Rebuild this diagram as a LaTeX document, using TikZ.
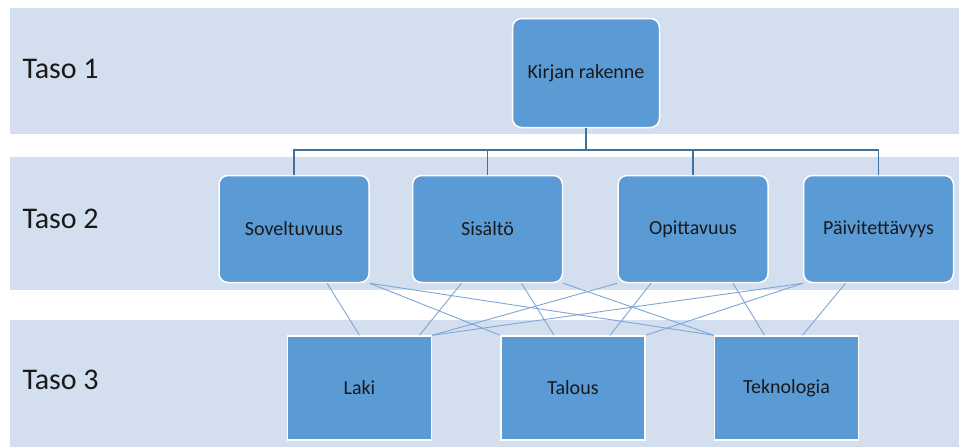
\documentclass[tikz,border=0pt]{standalone}
\usepackage{fontspec}
\setmainfont{Carlito}
\usetikzlibrary{positioning}
\definecolor{bandfill}{RGB}{211,222,239}
\definecolor{boxfill}{RGB}{91,155,213}
\definecolor{treeline}{RGB}{65,113,156}
\definecolor{crossline}{RGB}{126,166,214}
\tikzset{
  band/.style={fill=bandfill,draw=none},
  tasolabel/.style={font=\fontsize{30}{36}\selectfont,anchor=west,text=black!90},
  rbox/.style={draw=white,line width=1.5pt,fill=boxfill,rounded corners=9pt,
    minimum width=150pt,minimum height=107pt,font=\fontsize{20}{24}\selectfont,text=black!90},
  topbox/.style={rbox,minimum width=147pt,minimum height=109pt},
  sbox/.style={rbox,rounded corners=0pt,minimum width=144pt,minimum height=104pt},
  tree/.style={draw=treeline,line width=1.6pt},
  cross/.style={draw=crossline,line width=0.9pt}
}

\begin{document}
\begin{tikzpicture}[x=1pt,y=-1pt]
    \fill[white] (0,0) rectangle (959,447);
    \useasboundingbox (0,0) rectangle (959,447);
    % tasot
    \fill[band] (10,8) rectangle (959,134);
    \fill[band] (10,157) rectangle (959,290);
    \fill[band] (10,320) rectangle (959,447);
    \node[tasolabel] (taso1) at (19,69) {Taso 1};
    \node[tasolabel] (taso2) at (19,219) {Taso 2};
    \node[tasolabel] (taso3) at (19,380) {Taso 3};
    % taso 1
    \node[topbox] (kirja) at (586,73) {Kirjan rakenne};
    % taso 2
    \node[rbox] (sov) at (294,229) {Soveltuvuus};
    \node[rbox,right=42pt of sov] (sis) {Sisältö};
    \node[rbox,right=54pt of sis] (opi) {Opittavuus};
    \node[rbox,right=34pt of opi] (pai) {Päivitettävyys};
    % taso 3
    \node[sbox] (laki) at (359.5,388) {Laki};
    \node[sbox,right=68pt of laki] (tal) {Talous};
    \node[sbox,right=68pt of tal] (tek) {Teknologia};
    % puu
    \foreach \n in {sov,sis,opi,pai}
        \draw[tree] (kirja.south) -- ++(0,22) -| (\n.north);
    % ristiin
    \draw[cross] ([xshift=33pt]sov.south) -- (laki.north);
    \draw[cross] (sov.south east) -- (tal.north west);
    \draw[cross] (sov.south east) -- (tek.north west);
    \draw[cross] ([xshift=-26pt]sis.south) -- ([xshift=60pt]laki.north);
    \draw[cross] ([xshift=34pt]sis.south) -- ([xshift=-19pt]tal.north);
    \draw[cross] (sis.south east) -- (tek.north west);
    \draw[cross] (opi.south west) -- (laki.north east);
    \draw[cross] ([xshift=-42pt]opi.south) -- ([xshift=37pt]tal.north);
    \draw[cross] ([xshift=40pt]opi.south) -- ([xshift=-22pt]tek.north);
    \draw[cross] (pai.south west) -- (laki.north east);
    \draw[cross] (pai.south west) -- (tal.north east);
    \draw[cross] ([xshift=-33pt]pai.south) -- ([xshift=16pt]tek.north);
\end{tikzpicture}
\end{document}
